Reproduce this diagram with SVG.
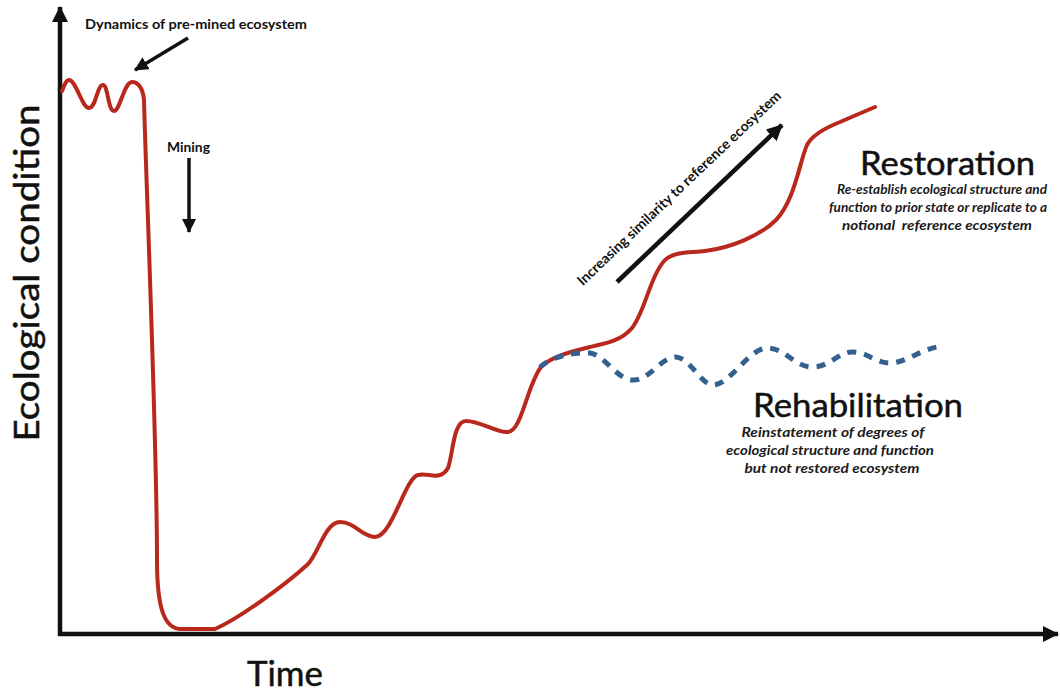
<svg xmlns="http://www.w3.org/2000/svg" width="1060" height="693" viewBox="0 0 1060 693">
  <style>
    .lbl { font-family: Lato, "Open Sans", "Liberation Sans", sans-serif; fill: #111; }
    .title { font-size: 33px; stroke: #111; stroke-width: 0.5; }
    .axis-title { font-size: 35px; stroke: #111; stroke-width: 0.5; }
    .note { font-size: 14px; font-weight: bold; }
    .desc { font-size: 13px; font-weight: bold; font-style: italic; fill: #1a1a1a; }
    .axis { stroke: #111; stroke-width: 4.5; fill: none; }
    .pointer { stroke: #111; stroke-width: 3.5; fill: none; }
    .restore { stroke: #b8281c; stroke-width: 4; fill: none; stroke-linejoin: round; stroke-linecap: round; }
    .rehab { stroke: #33608f; stroke-width: 5; fill: none; stroke-dasharray: 9 8; }
  </style>
  <defs>
    <marker id="head" markerUnits="userSpaceOnUse" markerWidth="16" markerHeight="16" viewBox="0 0 16 16" refX="15" refY="8" orient="auto">
      <path d="M0,0 L16,8 L0,16 Z" fill="#111"/>
    </marker>
    <marker id="headSmall" markerUnits="userSpaceOnUse" markerWidth="14" markerHeight="14" viewBox="0 0 14 14" refX="13" refY="7" orient="auto">
      <path d="M0,0 L14,7 L0,14 Z" fill="#111"/>
    </marker>
  </defs>

  <rect width="1060" height="693" fill="#fff"/>

  <!-- axes -->
  <g id="axes">
    <line class="axis" x1="60" y1="636" x2="60" y2="7" marker-end="url(#head)"/>
    <line class="axis" x1="58" y1="634" x2="1058" y2="634" marker-end="url(#head)"/>
    <text class="lbl axis-title" transform="translate(39,273) rotate(-90)" text-anchor="middle" textLength="337" lengthAdjust="spacingAndGlyphs">Ecological condition</text>
    <text class="lbl axis-title" x="247" y="686" font-size="34" textLength="76" lengthAdjust="spacingAndGlyphs">Time</text>
  </g>

  <!-- trajectories -->
  <g id="connectors">
    <path id="restoration-path" class="restore" d="M62,91 C64,86 66,80 69,80 C76,80 82,108 89,108 C96,108 97,85 103,85 C108,85 108,111 114,111 C120,111 124,82 132,82 C138,82 143,88 144,100 C146,180 157,440 157,560 C157,610 165,628 180,629 L215,629 C240,618 285,585 307,565 C318,555 325,522 340,522 C355,522 362,537 375,537 C392,537 405,478 418,475 C428,472 440,482 448,468 C453,455 453,421 466,421 C481,421 496,433 508,432 C522,431 527,385 541,367 C550,358 565,353 590,347 C608,343 622,340 632,328 C645,312 650,276 665,260 C675,251 690,253 705,251 C730,248 760,236 776,220 C795,200 800,160 807,145 C812,135 825,128 840,122 L875,107"/>
    <path id="rehabilitation-path" class="rehab" d="M540,367 C550,358 570,352 590,353 C605,355 615,378 632,380 C648,382 660,358 675,357 C690,357 700,384 713,385 C730,385 748,349 767,348 C785,348 795,367 812,367 C830,367 838,352 852,352 C868,352 875,363 890,363 C905,363 920,350 937,347"/>
    <line id="similarity-arrow" class="axis" x1="617" y1="282" x2="782" y2="125" marker-end="url(#head)"/>
    <line id="premined-arrow" class="pointer" x1="188" y1="38" x2="135" y2="70" marker-end="url(#headSmall)"/>
    <line id="mining-arrow" class="pointer" x1="189" y1="158" x2="189" y2="232" marker-end="url(#headSmall)"/>
  </g>

  <g id="premined">
    <text class="lbl note" x="85" y="29" textLength="222" lengthAdjust="spacingAndGlyphs">Dynamics of pre-mined ecosystem</text>
  </g>

  <g id="mining">
    <text class="lbl note" x="167" y="152" font-size="13" textLength="43" lengthAdjust="spacingAndGlyphs">Mining</text>
  </g>

  <g id="similarity">
    <text class="lbl note" transform="translate(679,188) rotate(-43.5)" text-anchor="middle" y="5" font-size="15" textLength="275" lengthAdjust="spacingAndGlyphs">Increasing similarity to reference ecosystem</text>
  </g>

  <g id="restoration">
    <text class="lbl title" x="860" y="175" font-size="32" textLength="175" lengthAdjust="spacingAndGlyphs">Restoration</text>
    <text class="lbl desc" x="942" y="194" text-anchor="middle" textLength="210" lengthAdjust="spacingAndGlyphs">Re-establish ecological structure and</text>
    <text class="lbl desc" x="938" y="212" text-anchor="middle" textLength="218" lengthAdjust="spacingAndGlyphs">function to prior state or replicate to a</text>
    <text class="lbl desc" x="937" y="230" text-anchor="middle" textLength="190" lengthAdjust="spacingAndGlyphs" xml:space="preserve">notional  reference ecosystem</text>
  </g>

  <g id="rehabilitation">
    <text class="lbl title" x="753" y="417" textLength="210" lengthAdjust="spacingAndGlyphs">Rehabilitation</text>
    <text class="lbl desc" x="833" y="437" text-anchor="middle" textLength="183" lengthAdjust="spacingAndGlyphs">Reinstatement of degrees of</text>
    <text class="lbl desc" x="830" y="455" text-anchor="middle" textLength="208" lengthAdjust="spacingAndGlyphs">ecological structure and function</text>
    <text class="lbl desc" x="832" y="473" text-anchor="middle" textLength="175" lengthAdjust="spacingAndGlyphs">but not restored ecosystem</text>
  </g>
</svg>
